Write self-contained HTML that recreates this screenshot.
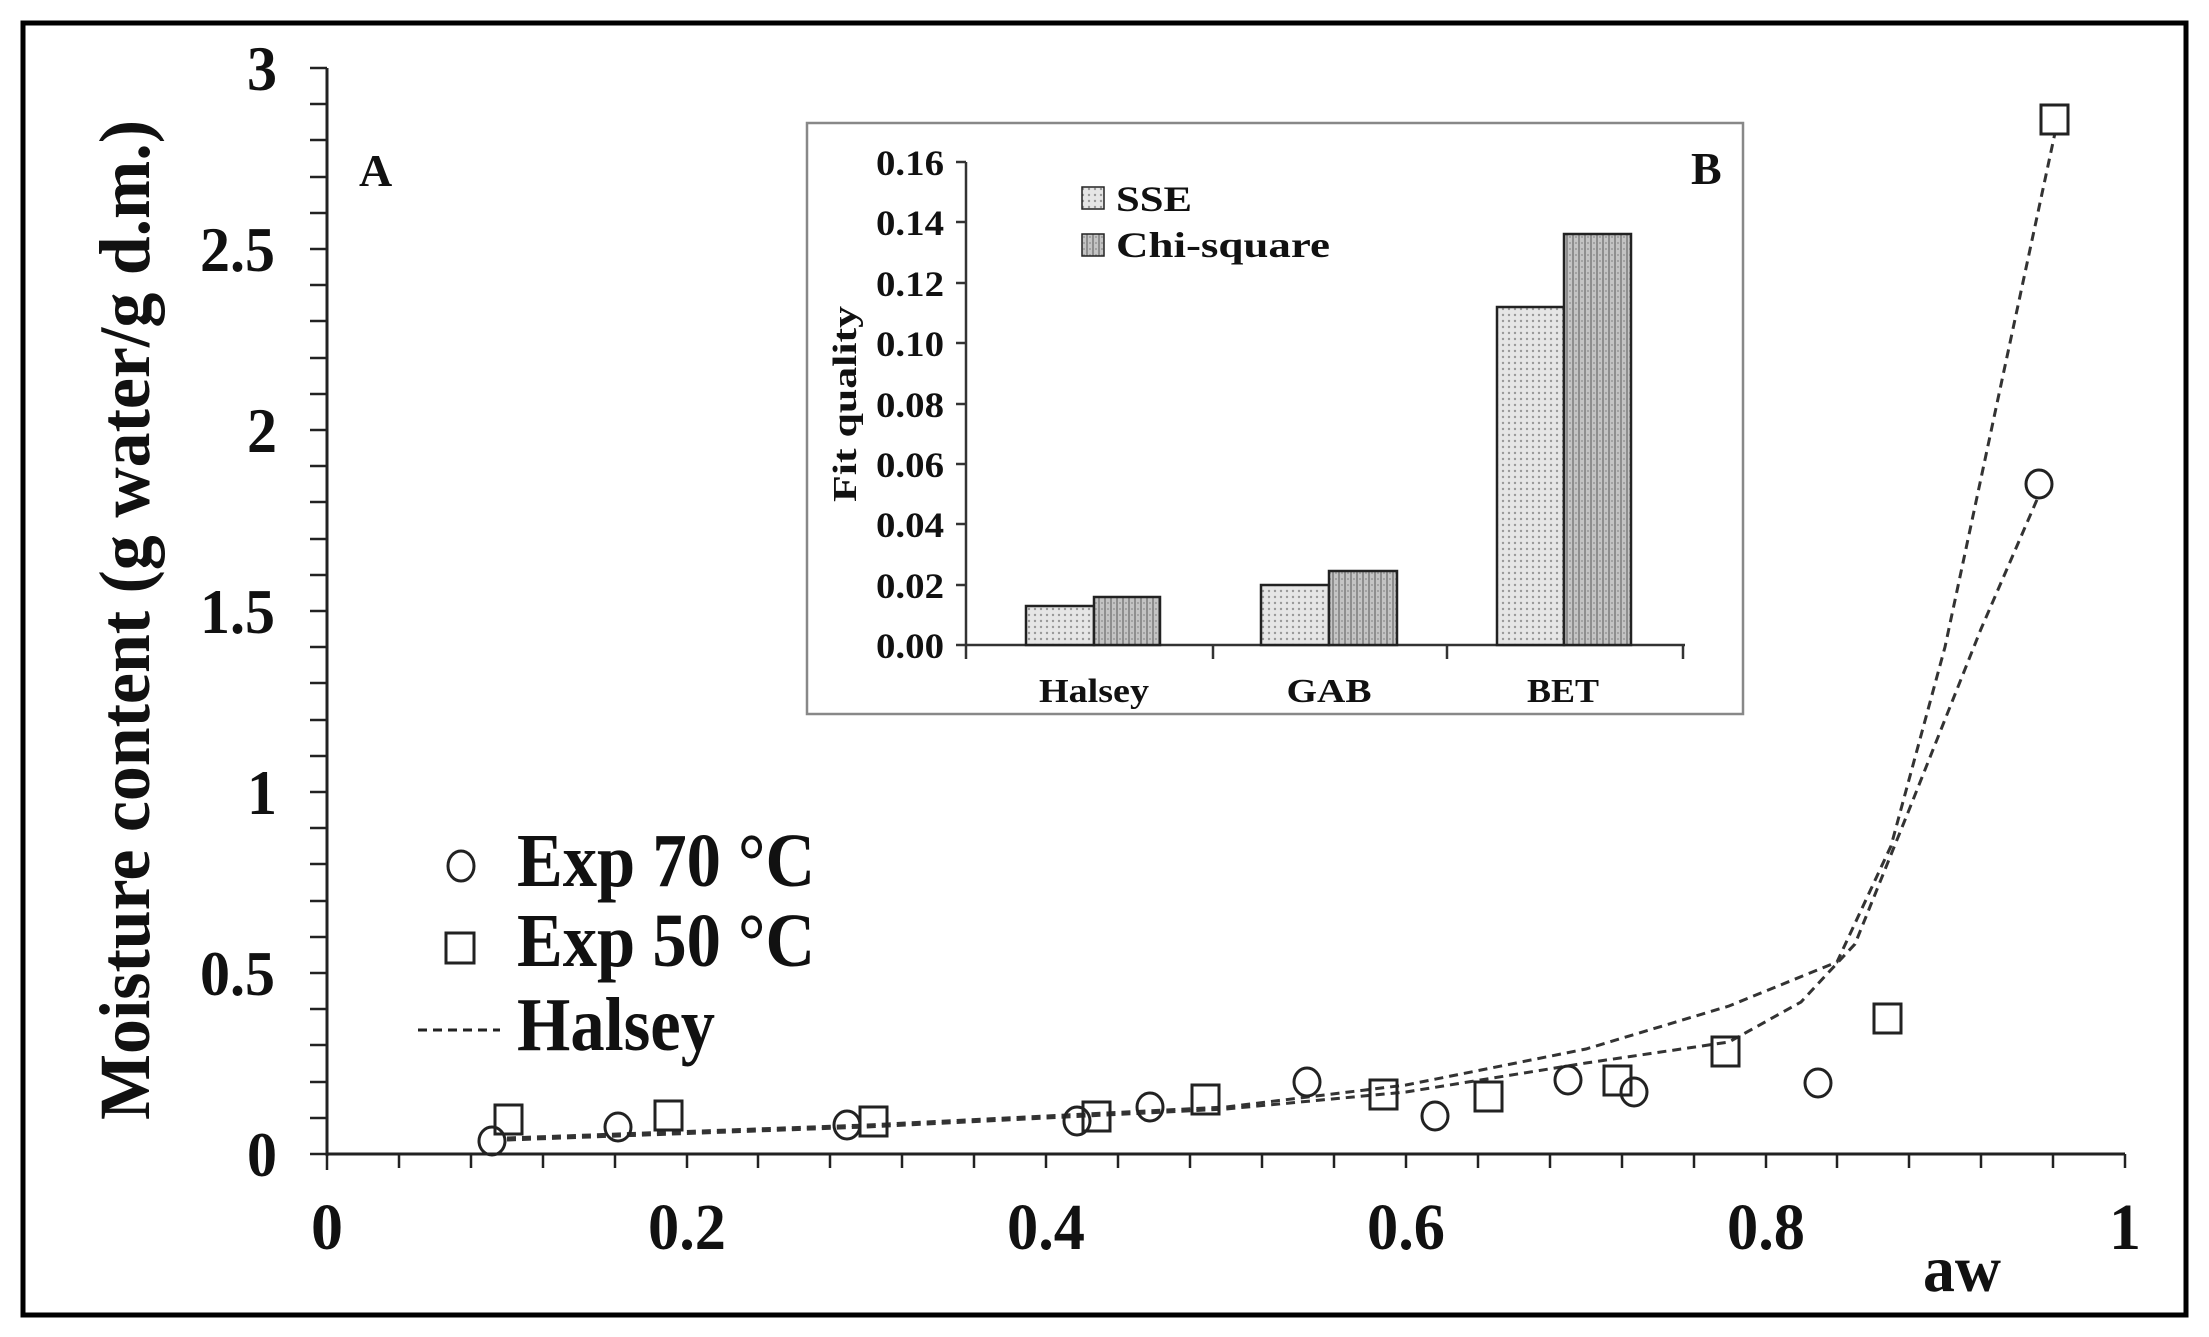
<!DOCTYPE html>
<html><head><meta charset="utf-8"><style>html,body{margin:0;padding:0;background:#fff}svg{display:block}text{font-family:"Liberation Serif",serif;font-weight:bold;fill:#111}</style></head>
<body>
<svg width="2209" height="1337" viewBox="0 0 2209 1337" xmlns="http://www.w3.org/2000/svg">
<defs>
<pattern id="p1" width="6" height="6" patternUnits="userSpaceOnUse"><rect width="6" height="6" fill="#e6e6e6"/><circle cx="3" cy="3" r="1.2" fill="#999"/></pattern>
<pattern id="p2" width="6" height="6" patternUnits="userSpaceOnUse"><rect width="6" height="6" fill="#c4c4c4"/><rect x="0" width="2" height="6" fill="#8e8e8e"/><circle cx="4" cy="3" r="1" fill="#999"/></pattern>
</defs>
<rect x="23" y="23" width="2163" height="1292" fill="none" stroke="#000" stroke-width="5"/>
<g stroke="#222" stroke-width="3" fill="none">
<line x1="327" y1="68" x2="327" y2="1156"/>
<line x1="327" y1="1154" x2="2125" y2="1154"/>
</g>
<g stroke="#222" stroke-width="2.5">
<path d="M310 1154H327M310 1118H327M310 1082H327M310 1045H327M310 1009H327M310 973H327M310 937H327M310 901H327M310 864H327M310 828H327M310 792H327M310 756H327M310 720H327M310 683H327M310 647H327M310 611H327M310 575H327M310 539H327M310 502H327M310 466H327M310 430H327M310 394H327M310 358H327M310 321H327M310 285H327M310 249H327M310 213H327M310 177H327M310 140H327M310 104H327M310 68H327"/>
<path d="M327 1154V1170M399 1154V1168M471 1154V1168M543 1154V1168M615 1154V1168M687 1154V1168M758 1154V1168M830 1154V1168M902 1154V1168M974 1154V1168M1046 1154V1168M1118 1154V1168M1190 1154V1168M1262 1154V1168M1334 1154V1168M1406 1154V1168M1478 1154V1168M1550 1154V1168M1622 1154V1168M1694 1154V1168M1766 1154V1168M1837 1154V1168M1909 1154V1168M1981 1154V1168M2053 1154V1168M2125 1154V1168"/>
</g>
<g font-size="64" text-anchor="end">
<text x="277" y="1176" textLength="30" lengthAdjust="spacingAndGlyphs">0</text>
<text x="275" y="995" textLength="75" lengthAdjust="spacingAndGlyphs">0.5</text>
<text x="277" y="814" textLength="30" lengthAdjust="spacingAndGlyphs">1</text>
<text x="275" y="633" textLength="75" lengthAdjust="spacingAndGlyphs">1.5</text>
<text x="277" y="452" textLength="30" lengthAdjust="spacingAndGlyphs">2</text>
<text x="275" y="271" textLength="75" lengthAdjust="spacingAndGlyphs">2.5</text>
<text x="277" y="90" textLength="30" lengthAdjust="spacingAndGlyphs">3</text>
</g>
<g font-size="66" text-anchor="middle">
<text x="327" y="1249" textLength="32" lengthAdjust="spacingAndGlyphs">0</text>
<text x="687" y="1249" textLength="78" lengthAdjust="spacingAndGlyphs">0.2</text>
<text x="1046" y="1249" textLength="78" lengthAdjust="spacingAndGlyphs">0.4</text>
<text x="1406" y="1249" textLength="78" lengthAdjust="spacingAndGlyphs">0.6</text>
<text x="1766" y="1249" textLength="78" lengthAdjust="spacingAndGlyphs">0.8</text>
<text x="2125" y="1249" textLength="32" lengthAdjust="spacingAndGlyphs">1</text>
</g>
<text x="1923" y="1291" font-size="66" textLength="78" lengthAdjust="spacingAndGlyphs">aw</text>
<text x="359" y="186" font-size="46">A</text>
<text transform="translate(149,620) rotate(-90)" font-size="72" text-anchor="middle" textLength="1000" lengthAdjust="spacingAndGlyphs">Moisture content  (g water/g d.m.)</text>
<ellipse cx="461" cy="866" rx="13" ry="15" fill="none" stroke="#222" stroke-width="3"/>
<text x="517" y="886" font-size="76" textLength="298" lengthAdjust="spacingAndGlyphs">Exp 70 °C</text>
<rect x="446" y="933" width="28" height="30" fill="none" stroke="#222" stroke-width="3"/>
<text x="517" y="966" font-size="76" textLength="298" lengthAdjust="spacingAndGlyphs">Exp 50 °C</text>
<line x1="418" y1="1030" x2="500" y2="1030" stroke="#222" stroke-width="3" stroke-dasharray="9,6"/>
<text x="517" y="1050" font-size="76" textLength="198" lengthAdjust="spacingAndGlyphs">Halsey</text>
<g fill="none" stroke="#333" stroke-width="3" stroke-dasharray="9,6">
<polyline points="507,1138 867,1125 1226,1107 1406,1085 1586,1049 1729,1006 1837,962 1891,846 1945,647 1999,394 2055,133"/>
<polyline points="507,1140 867,1127 1226,1109 1406,1092 1586,1063 1729,1042 1801,1002 1855,944 1909,810 1981,629 2039,495"/>
</g>
<g fill="none" stroke="#222" stroke-width="3">
<ellipse cx="492" cy="1141" rx="13" ry="14"/>
<ellipse cx="618" cy="1127" rx="13" ry="14"/>
<ellipse cx="847" cy="1125" rx="13" ry="14"/>
<ellipse cx="1077" cy="1121" rx="13" ry="14"/>
<ellipse cx="1150" cy="1107" rx="13" ry="14"/>
<ellipse cx="1307" cy="1082" rx="13" ry="14"/>
<ellipse cx="1435" cy="1116" rx="13" ry="14"/>
<ellipse cx="1568" cy="1080" rx="13" ry="14"/>
<ellipse cx="1634" cy="1092" rx="13" ry="14"/>
<ellipse cx="1818" cy="1083" rx="13" ry="14"/>
<ellipse cx="2039" cy="484" rx="13" ry="14"/>
</g>
<g fill="none" stroke="#222" stroke-width="3">
<rect x="495" y="1105" width="27" height="29"/>
<rect x="655" y="1101" width="27" height="29"/>
<rect x="860" y="1107" width="27" height="29"/>
<rect x="1083" y="1102" width="27" height="29"/>
<rect x="1192" y="1085" width="27" height="29"/>
<rect x="1370" y="1080" width="27" height="29"/>
<rect x="1475" y="1082" width="27" height="29"/>
<rect x="1604" y="1066" width="27" height="29"/>
<rect x="1712" y="1037" width="27" height="29"/>
<rect x="1874" y="1004" width="27" height="29"/>
<rect x="2041" y="105" width="27" height="29"/>
</g>
<rect x="807" y="123" width="936" height="591" fill="#fff" stroke="#888" stroke-width="2.5"/>
<g stroke="#333" stroke-width="2.5" fill="none">
<line x1="966" y1="162" x2="966" y2="659"/>
<line x1="966" y1="645" x2="1685" y2="645"/>
<path d="M956 645H966M956 585H966M956 524H966M956 464H966M956 404H966M956 343H966M956 283H966M956 222H966M956 162H966"/>
<path d="M1213 645V659M1447 645V659M1683 645V659"/>
</g>
<g font-size="36" text-anchor="end">
<text x="944" y="658" textLength="68" lengthAdjust="spacingAndGlyphs">0.00</text>
<text x="944" y="598" textLength="68" lengthAdjust="spacingAndGlyphs">0.02</text>
<text x="944" y="537" textLength="68" lengthAdjust="spacingAndGlyphs">0.04</text>
<text x="944" y="477" textLength="68" lengthAdjust="spacingAndGlyphs">0.06</text>
<text x="944" y="417" textLength="68" lengthAdjust="spacingAndGlyphs">0.08</text>
<text x="944" y="356" textLength="68" lengthAdjust="spacingAndGlyphs">0.10</text>
<text x="944" y="296" textLength="68" lengthAdjust="spacingAndGlyphs">0.12</text>
<text x="944" y="235" textLength="68" lengthAdjust="spacingAndGlyphs">0.14</text>
<text x="944" y="175" textLength="68" lengthAdjust="spacingAndGlyphs">0.16</text>
</g>
<g stroke="#222" stroke-width="2.5">
<rect x="1026" y="606" width="68" height="39" fill="url(#p1)"/>
<rect x="1094" y="597" width="66" height="48" fill="url(#p2)"/>
<rect x="1261" y="585" width="68" height="60" fill="url(#p1)"/>
<rect x="1329" y="571" width="68" height="74" fill="url(#p2)"/>
<rect x="1497" y="307" width="67" height="338" fill="url(#p1)"/>
<rect x="1564" y="234" width="67" height="411" fill="url(#p2)"/>
<rect x="1082" y="187" width="22" height="22" fill="url(#p1)" stroke-width="1.5"/>
<rect x="1082" y="234" width="22" height="22" fill="url(#p2)" stroke-width="1.5"/>
</g>
<text x="1116" y="211" font-size="36" textLength="76" lengthAdjust="spacingAndGlyphs">SSE</text>
<text x="1116" y="257" font-size="36" textLength="214" lengthAdjust="spacingAndGlyphs">Chi-square</text>
<text x="1691" y="184" font-size="46">B</text>
<g font-size="34" text-anchor="middle">
<text x="1094" y="702" textLength="110" lengthAdjust="spacingAndGlyphs">Halsey</text>
<text x="1329" y="702" textLength="85" lengthAdjust="spacingAndGlyphs">GAB</text>
<text x="1563" y="702" textLength="72" lengthAdjust="spacingAndGlyphs">BET</text>
</g>
<text transform="translate(856,404) rotate(-90)" font-size="34" text-anchor="middle" textLength="196" lengthAdjust="spacingAndGlyphs">Fit quality</text>
</svg>
</body></html>
